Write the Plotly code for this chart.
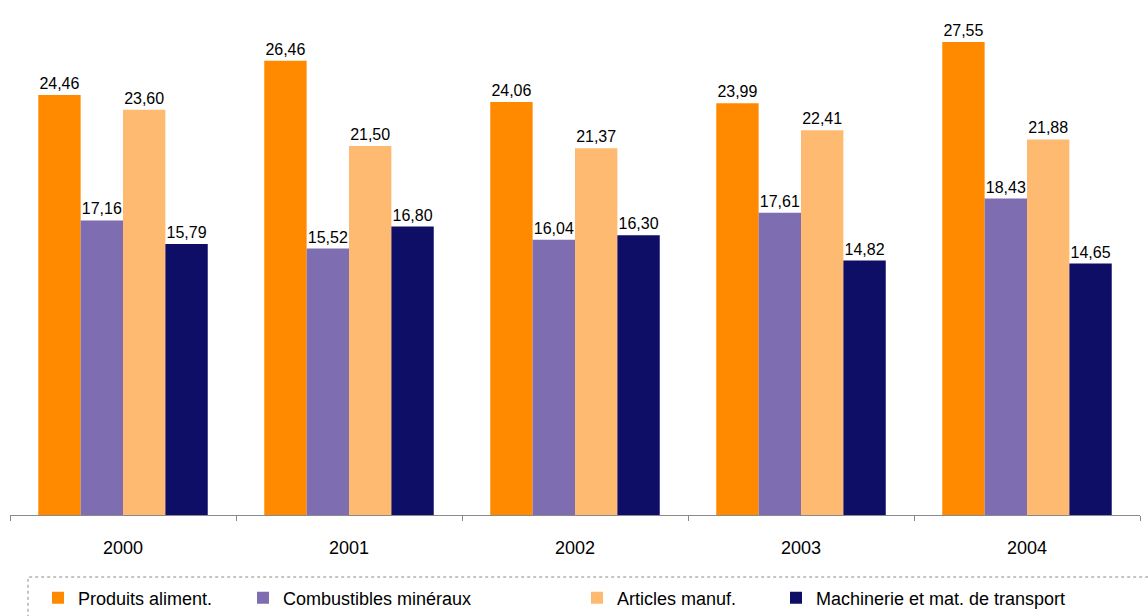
import plotly.graph_objects as go

years = ["2000", "2001", "2002", "2003", "2004"]
produits_aliment = [24.46, 26.46, 24.06, 23.99, 27.55]
combustibles = [17.16, 15.52, 16.04, 17.61, 18.43]
articles_manuf = [23.60, 21.50, 21.37, 22.41, 21.88]
machinerie = [15.79, 16.80, 16.30, 14.82, 14.65]

series = [
    ("Produits aliment.", produits_aliment, "#FF8A00", "legend"),
    ("Combustibles minéraux", combustibles, "#7E6DB0", "legend2"),
    ("Articles manuf.", articles_manuf, "#FFBA72", "legend3"),
    ("Machinerie et mat. de transport", machinerie, "#0E0E66", "legend4"),
]

W, H = 1148, 616
FONT = "Liberation Sans, Arial, sans-serif"


def fr(v):
    return f"{v:.2f}".replace(".", ",")


fig = go.Figure()
for name, vals, color, leg in series:
    fig.add_trace(go.Bar(
        x=years, y=vals, name=name, legend=leg,
        marker=dict(color=color, line=dict(width=0)),
        text=[fr(v) for v in vals],
        textposition="outside",
        textfont=dict(family=FONT, size=16, color="#000000"),
        cliponaxis=False,
    ))

# legend entries placed individually along the bottom strip
legend_x = [38, 243, 577, 776]
legend_common = dict(
    orientation="h", xref="container", yref="container",
    y=1 - 598 / H, yanchor="middle", xanchor="left",
    bgcolor="rgba(0,0,0,0)", borderwidth=0,
    font=dict(family=FONT, size=18, color="#000000"),
    itemwidth=30,
)
legends = {}
for i, px in enumerate(legend_x):
    key = "legend" if i == 0 else f"legend{i + 1}"
    legends[key] = dict(legend_common, x=px / W)

plot_bottom = 515
fig.update_layout(
    width=W, height=H,
    margin=dict(l=10, r=8, t=0, b=H - plot_bottom),
    paper_bgcolor="white", plot_bgcolor="white",
    barmode="group", bargap=0.25, bargroupgap=0,
    showlegend=True,
    **legends,
    xaxis=dict(
        showline=True, linecolor="#8a8a8a", linewidth=1,
        ticks="outside", tickson="boundaries", ticklen=5, tickcolor="#8a8a8a",
        ticklabelstandoff=16,
        tickfont=dict(family=FONT, size=18, color="#000000"),
        showgrid=False, fixedrange=True,
    ),
    yaxis=dict(
        range=[0, 30], visible=False, showgrid=False, fixedrange=True,
    ),
)

# dashed frame around the legend strip
fig.add_shape(
    type="rect", xref="paper", yref="paper",
    x0=(28 - 10) / 1130, x1=1.02,
    y0=(plot_bottom - 622) / plot_bottom, y1=(plot_bottom - 577) / plot_bottom,
    line=dict(color="#8a8a8a", width=1, dash="dot"),
    fillcolor="rgba(0,0,0,0)", layer="above",
)

fig.write_html("out.html")
